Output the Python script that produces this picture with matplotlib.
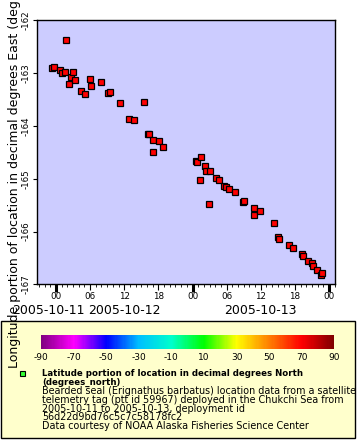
import matplotlib
matplotlib.use('Agg')
import matplotlib.pyplot as plt
import matplotlib.dates as mdates
from matplotlib.colors import LinearSegmentedColormap, Normalize
from matplotlib.patches import Rectangle
from matplotlib.lines import Line2D
import matplotlib.transforms as mtransforms
import matplotlib.cm as cm
import pandas as pd

plt.rcParams['font.family'] = ['DejaVu Sans']
plt.rcParams['axes.unicode_minus'] = False

# ---- data ----
times = [
    "2005-10-11 23:14", "2005-10-11 23:36", "2005-10-12 00:42", "2005-10-12 01:03",
    "2005-10-12 01:35", "2005-10-12 01:43", "2005-10-12 02:17", "2005-10-12 02:35",
    "2005-10-12 02:59", "2005-10-12 03:20", "2005-10-12 04:20", "2005-10-12 05:06",
    "2005-10-12 05:56", "2005-10-12 06:06", "2005-10-12 07:52", "2005-10-12 09:05",
    "2005-10-12 09:29", "2005-10-12 11:15", "2005-10-12 12:47", "2005-10-12 13:43",
    "2005-10-12 15:28", "2005-10-12 16:07", "2005-10-12 16:21", "2005-10-12 17:03",
    "2005-10-12 17:00", "2005-10-12 18:04", "2005-10-12 18:49", "2005-10-13 00:40",
    "2005-10-13 00:47", "2005-10-13 01:16", "2005-10-13 01:26", "2005-10-13 02:09",
    "2005-10-13 02:26", "2005-10-13 02:51", "2005-10-13 03:05", "2005-10-13 04:05",
    "2005-10-13 04:37", "2005-10-13 05:32", "2005-10-13 05:50", "2005-10-13 06:22",
    "2005-10-13 07:25", "2005-10-13 08:53", "2005-10-13 09:07", "2005-10-13 10:49",
    "2005-10-13 10:50", "2005-10-13 11:52", "2005-10-13 14:17", "2005-10-13 14:59",
    "2005-10-13 15:10", "2005-10-13 16:55", "2005-10-13 17:40", "2005-10-13 19:15",
    "2005-10-13 19:26", "2005-10-13 20:16", "2005-10-13 21:01", "2005-10-13 21:11",
    "2005-10-13 21:50", "2005-10-13 22:35", "2005-10-13 22:46",
]
longitudes = [
    -162.90, -162.89, -162.95, -163.00, -162.97, -162.38, -163.21, -163.07,
    -162.98, -163.14, -163.33, -163.40, -163.12, -163.25, -163.17, -163.38,
    -163.36, -163.57, -163.86, -163.89, -163.55, -164.15, -164.16, -164.26,
    -164.49, -164.29, -164.40, -164.66, -164.68, -165.03, -164.58, -164.76,
    -164.86, -165.47, -164.86, -164.98, -165.03, -165.13, -165.15, -165.20,
    -165.26, -165.44, -165.43, -165.69, -165.56, -165.62, -165.83, -166.10,
    -166.15, -166.26, -166.32, -166.43, -166.47, -166.55, -166.60, -166.66,
    -166.73, -166.83, -166.79,
]
y_ticks = [-167, -166, -165, -164, -163, -162]
cbar_ticks = [-90, -70, -50, -30, -10, 10, 30, 50, 70, 90]
date_labels = ["2005-10-11", "2005-10-12", "2005-10-13"]
date_label_times = ["2005-10-11 22:45", "2005-10-12 12:00", "2005-10-13 12:00"]
palette = ["#800080", "#ff00ff", "#0000ff", "#00bfff", "#00ffcc", "#00ff00",
           "#ffff00", "#ff8000", "#ff0000", "#800000"]

ylabel = "Longitude portion of location in decimal degrees East (degrees_east)"
legend_bold = ["Latitude portion of location in decimal degrees North", "(degrees_north)"]
legend_lines = [
    "Bearded seal (Erignathus barbatus) location data from a satellite",
    "telemetry tag (ptt id 59967) deployed in the Chukchi Sea from",
    "2005-10-11 to 2005-10-13, deployment id",
    "56d22d9bd76c5c7c58178fc2",
    "Data courtesy of NOAA Alaska Fisheries Science Center",
]

W, H = 360, 440
def fx(x):
    return x / W
def fy(y):
    return 1 - y / H

fig = plt.figure(figsize=(W / 100, H / 100), dpi=100)
fig.patch.set_facecolor('white')

# main axes
L, R, T, B = 37, 335.3, 20.3, 284.3
ax = fig.add_axes([fx(L), fy(B), (R - L) / W, (B - T) / H])
ax.set_facecolor('#ccccff')
t = pd.to_datetime(times)
ax.plot(t, longitudes, linestyle='none', marker='s', ms=4.6, mfc='#ff0000',
        mec='black', mew=0.9, zorder=3)
ax.set_xlim(pd.Timestamp("2005-10-11 20:40"), pd.Timestamp("2005-10-14 01:06"))
ax.set_ylim(-167, -162)
for s in ax.spines.values():
    s.set_linewidth(1.0)
    s.set_color('black')

ax.xaxis.set_major_locator(mdates.HourLocator(byhour=[0, 6, 12, 18]))
ax.xaxis.set_major_formatter(mdates.DateFormatter('%H'))
ax.xaxis.set_minor_locator(mdates.HourLocator())
ax.tick_params(axis='x', which='major', length=4, width=0.8, labelsize=6.3, pad=1.5)
ax.tick_params(axis='x', which='minor', length=2, width=0.6)
ax.set_yticks(y_ticks)
ax.set_yticklabels([str(v) for v in y_ticks])
ax.tick_params(axis='y', which='major', length=3, width=0.8, labelsize=6.3, pad=1.5)
for lab in ax.get_yticklabels():
    lab.set_rotation(90)
    lab.set_va('center')
    lab.set_ha('right')

# thicker midnight ticks
locs = ax.xaxis.get_majorticklocs()
for loc, tk in zip(locs, ax.xaxis.get_major_ticks()):
    if mdates.num2date(loc).hour == 0:
        tk.tick1line.set_markersize(6)
        tk.tick1line.set_markeredgewidth(2.2)

trans = mtransforms.blended_transform_factory(ax.transData, fig.transFigure)
for lab, tt in zip(date_labels, date_label_times):
    ax.text(mdates.date2num(pd.Timestamp(tt)), fy(311), lab, transform=trans,
            ha='center', va='center', fontsize=9)

# legend box
rect = Rectangle((fx(0.5), fy(437.7)), (355 - 0.5) / W, (437.7 - 321.3) / H,
                 transform=fig.transFigure, facecolor='#ffffcc', edgecolor='black',
                 linewidth=1.0, zorder=-1)
fig.add_artist(rect)

# colorbar
cmap = LinearSegmentedColormap.from_list('rainbow2', palette)
cax = fig.add_axes([fx(41), fy(349), (334.3 - 41) / W, 14 / H])
sm = cm.ScalarMappable(norm=Normalize(-90, 90), cmap=cmap)
cb = fig.colorbar(sm, cax=cax, orientation='horizontal', ticks=cbar_ticks)
cb.outline.set_visible(False)
cax.tick_params(length=0, labelsize=6.5, pad=3)

# legend marker and text
fig.add_artist(Line2D([fx(22)], [fy(373)], marker='s', ms=3.6, mfc='#33ff33',
                      mec='black', mew=0.8, linestyle='none', transform=fig.transFigure))
ys_bold = [373.3, 382.0]
for s, yy in zip(legend_bold, ys_bold):
    fig.text(fx(42), fy(yy), s, fontsize=6.2, fontweight='bold', ha='left', va='center')
ys = [391.3, 400.0, 408.6, 417.4, 426.4]
for s, yy in zip(legend_lines, ys):
    fig.text(fx(42), fy(yy), s, fontsize=6.95, ha='left', va='center')

# y label
fig.text(fx(15), fy(368), ylabel, rotation=90, ha='center', va='bottom', fontsize=9)

fig.savefig('out.png', dpi=100)
